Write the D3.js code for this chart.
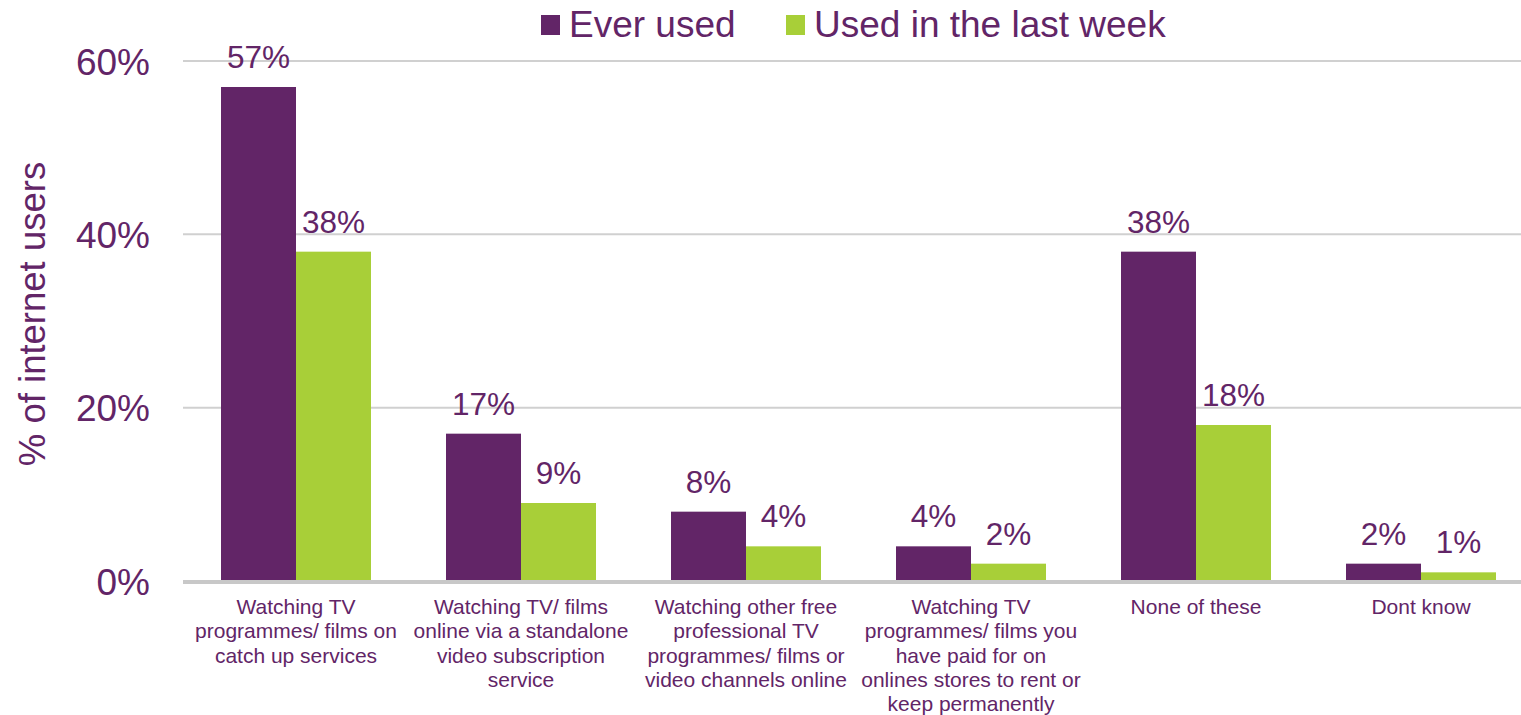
<!DOCTYPE html>
<html><head><meta charset="utf-8">
<script src="https://cdn.jsdelivr.net/npm/d3@7"></script>
<style>body{margin:0;background:#fff;} svg{display:block;}</style>
</head><body>
<svg id="chart" width="1521" height="715"></svg>
<script>
const categories = [
  ["Watching TV", "programmes/ films on", "catch up services"],
  ["Watching TV/ films", "online via a standalone", "video subscription", "service"],
  ["Watching other free", "professional TV", "programmes/ films or", "video channels online"],
  ["Watching TV", "programmes/ films you", "have paid for on", "onlines stores to rent or", "keep permanently"],
  ["None of these"],
  ["Dont know"]
];
const seriesNames = ["Ever used", "Used in the last week"];
const everUsed = [57, 17, 8, 4, 38, 2];
const lastWeek = [38, 9, 4, 2, 18, 1];
const yTicks = [0, 20, 40, 60];

const purple = "#622567", green = "#a8cf38", textCol = "#622567";
const svg = d3.select("#chart");
const font = "'Liberation Sans', Arial, sans-serif";

const x0 = d3.scaleBand().domain(d3.range(categories.length)).range([183.5, 1533.5]).paddingInner(1/3).paddingOuter(1/6);
const x1 = d3.scaleBand().domain([0, 1]).range([0, x0.bandwidth()]);
const y = d3.scaleLinear().domain([0, 60]).range([581, 61]);

// gridlines
svg.append("g").selectAll("line").data(yTicks.filter(d => d > 0)).join("line")
  .attr("x1", 183).attr("x2", 1521).attr("y1", d => y(d)).attr("y2", d => y(d))
  .attr("stroke", "#d0d0d0").attr("stroke-width", 2);

// y axis tick labels
const yAxis = d3.axisLeft(y).tickValues(yTicks).tickFormat(d => d + "%").tickSize(0).tickPadding(0);
const ya = svg.append("g").attr("transform", "translate(150,0)").call(yAxis);
ya.select(".domain").remove();
ya.selectAll("text").attr("font-family", font).attr("font-size", 37).attr("fill", textCol).attr("dy", "0.36em");

// y title
svg.append("text").attr("transform", "translate(45,314) rotate(-90)").attr("text-anchor", "middle")
  .attr("font-family", font).attr("font-size", 36.5).attr("fill", textCol).text("% of internet users");

// bars
const data = categories.map((c, i) => ({i, vals: [everUsed[i], lastWeek[i]]}));
const groups = svg.append("g").selectAll("g").data(data).join("g")
  .attr("transform", d => `translate(${x0(d.i)},0)`);
groups.selectAll("rect").data(d => d.vals.map((v, k) => ({v, k}))).join("rect")
  .attr("x", d => x1(d.k)).attr("width", x1.bandwidth())
  .attr("y", d => y(d.v)).attr("height", d => y(0) - y(d.v))
  .attr("fill", d => d.k === 0 ? purple : green);
groups.selectAll("text.val").data(d => d.vals.map((v, k) => ({v, k}))).join("text").attr("class", "val")
  .attr("x", d => x1(d.k) + x1.bandwidth() / 2).attr("y", d => y(d.v) - 19)
  .attr("text-anchor", "middle").attr("font-family", font).attr("font-size", 31.5).attr("fill", textCol)
  .text(d => d.v + "%");

// x axis line
svg.append("line").attr("x1", 183).attr("x2", 1521).attr("y1", y(0) + 1).attr("y2", y(0) + 1)
  .attr("stroke", "#c8c8c8").attr("stroke-width", 4);

// category labels
const xa = svg.append("g");
data.forEach(d => {
  const t = xa.append("text").attr("text-anchor", "middle").attr("font-family", font)
    .attr("font-size", 21).attr("fill", textCol);
  categories[d.i].forEach((line, j) => {
    t.append("tspan").attr("x", x0(d.i) + x0.bandwidth() / 2).attr("y", 614 + j * 24.3).text(line);
  });
});

// legend
const leg = svg.append("g");
const legItems = [{name: seriesNames[0], c: purple, x: 541}, {name: seriesNames[1], c: green, x: 786}];
legItems.forEach(it => {
  leg.append("rect").attr("x", it.x).attr("y", 15).attr("width", 19).attr("height", 20).attr("fill", it.c);
  leg.append("text").attr("x", it.x + 28).attr("y", 37).attr("font-family", font).attr("font-size", 37)
    .attr("fill", textCol).text(it.name);
});
</script>
</body></html>
